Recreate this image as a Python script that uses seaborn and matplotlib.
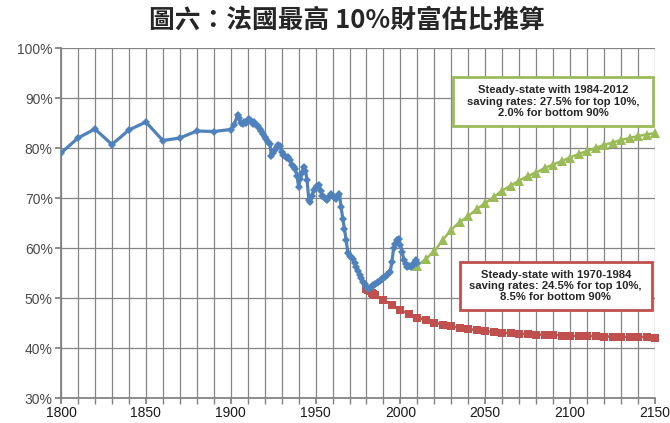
import matplotlib
matplotlib.use("Agg")
import matplotlib.pyplot as plt
from matplotlib.patches import Rectangle
from matplotlib.ticker import MultipleLocator, FuncFormatter
import seaborn as sns
import pandas as pd

# ---------------- data ----------------
hist_years = [1800, 1810, 1820, 1830, 1840, 1850, 1860, 1870, 1880, 1890, 1900,
              1902, 1904, 1905, 1906, 1907, 1908, 1909, 1910, 1911, 1912, 1913,
              1914, 1915, 1916, 1917, 1918, 1919, 1920, 1921, 1922, 1923, 1924,
              1925, 1926, 1927, 1928, 1929, 1930, 1931, 1932, 1933, 1934, 1935,
              1936, 1937, 1938, 1939, 1940, 1941, 1942, 1943, 1944, 1945, 1946,
              1947, 1948, 1949, 1950, 1951, 1952, 1953, 1954, 1955, 1956, 1957,
              1958, 1959, 1960, 1961, 1962, 1963, 1964, 1965, 1966, 1967, 1968,
              1969, 1970, 1971, 1972, 1973, 1974, 1975, 1976, 1977, 1978, 1979,
              1980, 1981, 1982, 1983, 1984, 1985, 1986, 1987, 1988, 1989, 1990,
              1991, 1992, 1993, 1994, 1995, 1996, 1997, 1998, 1999, 2000, 2001,
              2002, 2003, 2004, 2005, 2006, 2007, 2008, 2009, 2010]
hist_share = [79.0, 82.0, 83.8, 80.7, 83.6, 85.2, 81.5, 82.0, 83.4, 83.3, 83.7,
              84.6, 86.6, 86.0, 85.0, 84.8, 85.3, 85.0, 85.6, 85.9, 85.4, 84.9,
              85.2, 84.6, 84.4, 83.8, 83.4, 82.8, 82.3, 81.9, 81.3, 80.9, 78.5,
              79.0, 79.6, 80.2, 80.6, 80.4, 79.3, 78.6, 78.4, 78.0, 78.2, 77.6,
              76.6, 76.2, 75.9, 74.5, 72.3, 73.8, 75.0, 76.3, 75.5, 73.6, 69.6,
              69.3, 70.5, 71.6, 72.0, 72.4, 72.6, 71.5, 70.5, 70.3, 69.8, 69.6,
              70.2, 70.9, 70.5, 70.2, 69.9, 70.4, 70.9, 68.3, 65.9, 63.9, 61.6,
              59.0, 58.5, 58.2, 57.9, 57.0, 56.3, 55.5, 54.6, 54.0, 53.3, 52.8,
              52.3, 51.9, 52.0, 52.3, 52.6, 52.8, 53.0, 53.3, 53.5, 53.8, 54.0,
              54.3, 54.6, 55.0, 55.3, 57.3, 60.0, 60.8, 61.6, 61.8, 60.6, 59.3,
              57.6, 56.8, 56.3, 56.5, 56.3, 56.5, 57.0, 57.6, 57.0]

red_years = [1980, 1981, 1982, 1983, 1984, 1985, 1990, 1995, 2000, 2005, 2010,
             2015, 2020, 2025, 2030, 2035, 2040, 2045, 2050, 2055, 2060, 2065,
             2070, 2075, 2080, 2085, 2090, 2095, 2100, 2105, 2110, 2115, 2120,
             2125, 2130, 2135, 2140, 2145, 2150]
red_share = [51.8, 51.6, 51.4, 51.1, 50.9, 50.6, 49.6, 48.6, 47.6, 46.8, 46.1,
             45.6, 45.1, 44.7, 44.4, 44.0, 43.8, 43.6, 43.4, 43.2, 43.1, 43.0,
             42.9, 42.8, 42.7, 42.65, 42.6, 42.5, 42.45, 42.4, 42.4, 42.35, 42.3,
             42.3, 42.25, 42.2, 42.2, 42.2, 42.1]

green_years = [2010, 2015, 2020, 2025, 2030, 2035, 2040, 2045, 2050, 2055, 2060,
               2065, 2070, 2075, 2080, 2085, 2090, 2095, 2100, 2105, 2110, 2115,
               2120, 2125, 2130, 2135, 2140, 2145, 2150]
green_share = [56.5, 57.8, 59.4, 61.6, 63.7, 65.2, 66.4, 67.8, 69.0, 70.2, 71.5,
               72.5, 73.5, 74.4, 75.1, 76.0, 76.7, 77.4, 78.1, 78.8, 79.4, 80.0,
               80.6, 81.1, 81.6, 82.0, 82.4, 82.7, 83.0]

title = "圖六：法國最高 10%財富估比推算"
green_note = "Steady-state with 1984-2012\nsaving rates: 27.5% for top 10%,\n2.0% for bottom 90%"
red_note = "Steady-state with 1970-1984\nsaving rates: 24.5% for top 10%,\n8.5% for bottom 90%"

# ---------------- style ----------------
sns.set_theme(style="white")
plt.rcParams['font.family'] = ['Liberation Sans', 'DejaVu Sans']

BLUE = "#4F81BD"
RED = "#C0504D"
GREEN = "#9BBB59"

fig = plt.figure(figsize=(6.7, 4.23), dpi=100)
ax = fig.add_axes([61/670, 1-398/423, (655-61)/670, (398-48)/423])

hist = pd.DataFrame({"year": hist_years, "share": hist_share})
red = pd.DataFrame({"year": red_years, "share": red_share})
green = pd.DataFrame({"year": green_years, "share": green_share})

sns.lineplot(data=red, x="year", y="share", ax=ax, color=RED, lw=1.8,
             marker="s", markersize=5.5, markeredgewidth=0, zorder=3, clip_on=False)
sns.lineplot(data=green, x="year", y="share", ax=ax, color=GREEN, lw=1.8,
             marker="^", markersize=6.5, markeredgewidth=0, zorder=3, clip_on=False)
sns.lineplot(data=hist, x="year", y="share", ax=ax, color=BLUE, lw=2.3,
             marker="D", markersize=4.2, markeredgewidth=0, zorder=4)

ax.set_xlim(1800, 2150)
ax.set_ylim(30, 100)
ax.xaxis.set_major_locator(MultipleLocator(50))
ax.xaxis.set_minor_locator(MultipleLocator(10))
ax.yaxis.set_major_locator(MultipleLocator(10))
ax.yaxis.set_major_formatter(FuncFormatter(lambda v, p: f"{int(round(v))}%"))
ax.grid(True, which="both", color="#858585", lw=0.9)
ax.set_axisbelow(True)
for s in ax.spines.values():
    s.set_visible(False)
ax.spines["bottom"].set_visible(True)
ax.spines["bottom"].set_color("#808080")
ax.spines["left"].set_visible(True)
ax.spines["left"].set_color("#808080")
ax.tick_params(axis="x", which="both", bottom=True, length=4, color="#808080",
               labelsize=10, labelcolor="#1a1a1a", pad=2)
ax.tick_params(axis="y", which="both", left=True, length=4, color="#808080",
               labelsize=10, labelcolor="#4a4a4a", pad=2)
ax.set_xlabel("")
ax.set_ylabel("")

# annotation boxes
ax.add_patch(Rectangle((2031, 84.4), 118, 9.8, facecolor="white",
                       edgecolor=GREEN, lw=2, zorder=5))
ax.text(2090, 89.3, green_note, ha="center", va="center", fontsize=8.1,
        fontweight="bold", color="#262626", linespacing=1.15, zorder=6)
ax.add_patch(Rectangle((2035, 47.6), 113, 9.6, facecolor="white",
                       edgecolor=RED, lw=2, zorder=5))
ax.text(2091.5, 52.4, red_note, ha="center", va="center", fontsize=8.1,
        fontweight="bold", color="#262626", linespacing=1.15, zorder=6)

fig.text(0.518, 0.952, title, ha="center", va="center", fontsize=18.5,
         fontweight="bold", family=["Noto Sans CJK TC", "DejaVu Sans"])

fig.savefig("out.png", dpi=100)
